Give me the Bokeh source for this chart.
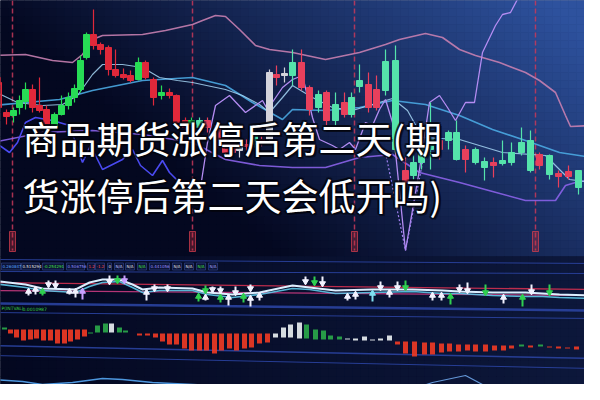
import numpy as np
from bokeh.plotting import figure
from bokeh.models import Range1d, ColumnDataSource
from bokeh.core.properties import value
from bokeh.embed import file_html
from bokeh.resources import INLINE

# ---------------- candles (time position, body top/bottom, high, low, kind) ----------------
candle_t = [1, 6, 14, 21, 27, 33, 40, 47, 54, 62, 69, 76, 82, 88, 94, 101, 108, 116, 123, 131, 138, 146, 153, 161, 169, 177, 184, 193, 199,
            207, 215, 225, 233, 240, 247, 254, 262, 269, 277, 284, 292, 300, 309, 317, 326, 334, 343, 352, 359, 367, 376, 384, 393,
            403, 413, 421, 429, 438, 447, 456, 464, 473, 483, 492, 501, 510, 519, 529, 538, 547, 557, 566, 576, 586, 595]
candle_top = [85, 90, 120, 118, 108, 97, 97, 113, 117, 122, 113, 105, 96, 68, 42, 42, 52, 55, 77, 82, 83, 70, 70, 87, 100, 100, 103, 128, 128,
              128, 128, 133, 138, 148, 153, 152, 142, 147, 80, 82, 81, 70, 70, 95, 102, 100, 112, 110, 105, 88, 92, 97, 69,
              68, 178, 170, 152, 147, 148, 140, 140, 157, 157, 169, 170, 168, 160, 150, 148, 162, 163, 181, 179, 178, 188]
candle_bot = [92, 115, 124, 123, 115, 109, 115, 118, 133, 135, 122, 113, 105, 97, 65, 53, 57, 77, 83, 85, 88, 87, 85, 105, 103, 103, 130, 135, 132,
              135, 135, 153, 160, 160, 158, 154, 152, 150, 147, 85, 83, 83, 95, 117, 115, 128, 128, 122, 122, 94, 115, 115, 98,
              157, 190, 183, 170, 157, 157, 148, 167, 167, 170, 175, 173, 171, 170, 160, 178, 173, 182, 184, 184, 195, 197]
candle_hi = [83, 87, 117, 115, 103, 90, 92, 85, 113, 120, 103, 100, 92, 63, 40, 17, 50, 53, 57, 76, 78, 65, 68, 85, 93, 96, 102, 125, 125,
             125, 125, 130, 135, 145, 150, 147, 135, 143, 77, 73, 75, 57, 57, 93, 98, 98, 100, 100, 100, 72, 80, 83, 57,
             53, 165, 163, 143, 110, 143, 138, 128, 153, 155, 165, 165, 148, 150, 135, 138, 160, 162, 178, 173, 178, 186]
candle_lo = [95, 120, 132, 130, 122, 117, 120, 120, 137, 137, 123, 117, 110, 100, 67, 57, 62, 83, 85, 87, 90, 88, 87, 113, 107, 106, 133, 138, 135,
             140, 140, 156, 163, 162, 165, 158, 155, 154, 150, 93, 90, 93, 98, 123, 120, 133, 133, 125, 125, 100, 120, 118, 103,
             160, 195, 187, 177, 177, 167, 157, 168, 180, 172, 188, 185, 173, 173, 163, 180, 177, 187, 195, 187, 202, 203]
candle_kind = list("dddu" "uudd" "duuu" "uuud" "dddd" "dudd" "uddd" "u"
                   "uddd" "dndu" "dndn" "uddu" "duduudd" "uu"
                   "duuudu" "uduuduuuud" "uddudu")

# ---------------- overlay lines ----------------
upper_x = [0, 33, 60, 80, 90, 100, 110, 150, 173, 200, 210, 223, 233, 247, 263, 277, 300, 333, 367, 393, 407, 433, 450, 467, 483, 507, 533, 547, 563, 573, 578, 600]
upper_y = [63, 62, 68, 70, 62, 47, 43, 42, 38, 32, 28, 23, 24, 37, 53, 57, 60, 67, 60, 52, 47, 41, 45, 57, 63, 70, 80, 88, 100, 123, 134, 133]
fast_x = [0, 25, 50, 70, 85, 100, 110, 130, 150, 167, 185, 200, 233, 250, 267, 277, 290, 300, 320, 340, 360, 380, 400, 415, 430, 467, 510, 553, 577, 600]
fast_y = [98, 110, 113, 112, 103, 82, 72, 72, 75, 85, 88, 90, 97, 103, 112, 120, 105, 93, 105, 115, 118, 112, 106, 118, 145, 147, 160, 163, 187, 190]
slow_x = [0, 67, 100, 150, 200, 233, 260, 290, 300, 333, 367, 400, 433, 467, 500, 533, 567, 600]
slow_y = [113, 107, 98, 88, 85, 93, 110, 127, 117, 118, 115, 108, 112, 123, 137, 148, 160, 165]
lower_x = [0, 50, 100, 150, 200, 233, 267, 300, 333, 367, 400, 427, 467, 500, 533, 563, 573, 583, 600]
lower_y = [150, 140, 138, 142, 150, 167, 173, 175, 175, 165, 162, 180, 190, 199, 208, 208, 193, 190, 187]
jl_x = [0, 7, 17, 25, 33, 43, 60, 77, 90, 98, 110, 130, 140, 148, 160, 170, 177, 187, 200, 208]
jl_y = [167, 153, 160, 150, 130, 125, 128, 133, 170, 153, 177, 167, 157, 173, 183, 168, 180, 190, 190, 195]
jr_x = [208, 215, 223, 237, 253, 270, 275, 290, 300, 310, 320, 327, 340, 347, 357, 363, 373, 380, 387, 393, 400, 413, 427, 437, 447, 455, 463, 473, 482, 490, 503, 510, 518, 527, 540]
jr_y = [195, 150, 113, 103, 120, 108, 117, 95, 87, 83, 125, 147, 153, 157, 150, 157, 130, 133, 117, 107, 130, 258, 177, 110, 103, 115, 128, 110, 110, 60, 33, 22, 20, 3, 0]
dv_x = [393, 413, 430]
dv_y = [160, 258, 170]
period_x = [20, 200, 362, 543]

# ---------------- signal panel ----------------
ar_x = [36, 43, 50, 56, 63, 77, 83, 90, 117, 125, 132, 154, 162, 175, 206, 213, 213, 220, 228, 228, 236, 243, 251, 258, 258, 267,
        313, 322, 330, 355, 363, 380, 388, 397, 405, 413, 440, 449, 458, 467, 475, 493, 511, 530, 539, 557, 595]
ar_tip = [297, 295, 297, 294, 295, 297, 297, 297, 291, 290, 290, 298, 298, 298, 302, 300, 303, 299, 300, 303, 303, 302, 302, 298, 304, 301,
          291, 292, 293, 302, 300, 299, 297, 298, 297, 297, 301, 301, 302, 299, 300, 302, 303, 303, 301, 302, 305]
ar_tail = [303, 302, 303, 288, 288, 302, 305, 307, 283, 283, 283, 308, 292, 292, 309, 293, 308, 294, 294, 310, 313, 294, 310, 292, 314, 308,
           284, 284, 284, 308, 307, 309, 289, 305, 289, 288, 308, 308, 312, 292, 290, 292, 311, 314, 292, 292, 313]
ar_kind = list("wwgwwwwp" "wgp" "www" "ggwwwgwwgwww" "wgw" "wwc" "wwwg" "wwg" "ww" "g" "w" "g" "w" "g" "c")

sig1_x = [0, 33, 50, 83, 97, 110, 127, 140, 150, 167, 200, 215, 240, 267, 300, 317, 343, 380, 420, 450, 467, 500, 533, 550, 567, 600]
sig1_y = [288, 292, 296, 297, 290, 287, 287, 292, 297, 295, 296, 300, 302, 300, 293, 295, 298, 297, 297, 298, 299, 300, 300, 301, 302, 303]
sig2_y = [291, 295, 298, 300, 294, 290, 289, 295, 300, 298, 298, 302, 305, 302, 296, 297, 301, 300, 299, 301, 301, 303, 304, 304, 305, 306]
level_y0 = [290, 298]
level_y1 = [297, 303]

hdr_text = ["0.260847", "0.515294", "-0.254291", "0.506756", "1.2", "-1.2", "0", "N/A", "N/A", "N/A", "0.441056", "N/A", "N/A", "N/A", "N/A"]
hdr_x = [9, 29, 50, 74, 95, 103, 115, 122, 133, 145, 157, 180, 192, 204, 216]
hdr_w = [19, 18, 21, 18, 7, 9, 4, 9, 9, 9, 20, 9, 9, 9, 9]
hdr_col = ["#5aa8ff", "#e0e0e0", "#45e045", "#8f8fff", "#ff4a4a", "#ff4a4a", "#e0e0e0", "#c0c8ff", "#e0e0e0", "#45e045", "#9a90ff", "#e0e0e0", "#e0e0e0", "#45e045", "#a8a8ff"]

# ---------------- histogram panel ----------------
mh_x = [5, 12, 18, 24, 31, 38, 44, 51, 58, 65, 72, 78, 85, 92, 98, 105, 113, 119, 127, 133,
        147, 155, 163, 170, 177, 184, 192, 199, 207, 214, 222, 229, 237, 244, 252, 259, 267, 275,
        283, 291, 298, 307, 314, 323, 331, 338, 347, 355, 363, 372, 380, 388, 397,
        405, 413, 422, 432, 440, 449, 457, 466, 475, 483, 493, 502, 511, 519, 529, 538, 548, 557, 566, 575, 584, 594]
mh_top = [333, 335, 337, 337, 337, 337, 337, 337, 337, 337, 337, 337, 337, 337, 340, 333, 331, 331, 335, 338,
          341, 341, 341, 341, 341, 341, 341, 341, 341, 341, 341, 341, 341, 341, 341, 341, 341, 341,
          341, 335, 332, 330, 332, 337, 338, 343, 344, 346, 346, 344, 347, 346, 343,
          349, 349, 349, 350, 350, 351, 351, 352, 352, 352, 352, 353, 353, 353, 352, 353, 352, 354, 354, 355, 354, 355]
mh_bot = [337, 337, 341, 345, 348, 347, 346, 348, 348, 351, 351, 349, 347, 344, 341, 340, 340, 340, 340, 340,
          343, 343, 345, 349, 352, 352, 356, 358, 358, 358, 361, 358, 356, 358, 356, 355, 351, 350,
          345, 345, 345, 346, 346, 347, 347, 347, 347, 347, 348, 348, 348, 348, 348,
          352, 361, 364, 362, 362, 360, 359, 359, 358, 359, 359, 358, 358, 356, 354, 355, 354, 355, 356, 356, 357, 357]
mh_kind = list("gg" "rrrrrrrrrrrr" "gggwgg" "rrrrrrrrrrrrrrrrrr" "www" "wggggg" "wwwwww" "rrrrrrrrrrrrrr" "grgrrrrr")

sep_y0 = [267, 279, 311, 320, 353, 363]
sep_y1 = [271, 281, 318, 326, 366, 376]
sep_w = [1, 1, 2.5, 1, 1.5, 1]

bottom_x = [0, 30, 50, 80, 110, 130, 160, 200, 240, 270, 300, 330, 360]
bottom_y = [387, 389, 392, 390, 386, 387, 390, 392, 394, 395, 397, 399, 401]
arc_x = [410, 440, 473, 490, 500]
arc_y = [400, 390, 383, 392, 400]

title_lines = ["商品期货涨停后第二天(期", "货涨停后第二天会低开吗)"]
title_y = [145, 202]

# ---------------- figure ----------------
p = figure(width=584, height=384, x_range=Range1d(8, 592), y_range=Range1d(392, 8),
           output_backend="svg", toolbar_location=None, min_border=0,
           background_fill_color="#070c2a", border_fill_color="#070c2a", outline_line_color=None)
p.axis.visible = False
p.xgrid.visible = False
p.ygrid.visible = False

# background gradient drawn as tiles (style only)
step = 8
tile_x, tile_t, tile_b, tile_c = [], [], [], []
c0 = (4, 8, 32); c1 = (46, 82, 158)
for yy in range(0, 400, step):
    for xx in range(0, 600, step):
        cx_, cy_ = xx + step / 2, yy + step / 2
        if cy_ < 265:
            w_ = min(max(1.05 * cx_ / 600 + 0.55 * (1 - cy_ / 265) - 0.5, 0.0), 1.0) ** 1.05
        else:
            w_ = min(0.22 * cx_ / 600, 0.25)
        tile_x.append(cx_)
        tile_t.append(yy)
        tile_b.append(yy + step)
        tile_c.append("#%02x%02x%02x" % tuple(int(a + (b - a) * w_) for a, b in zip(c0, c1)))
p.vbar(x=tile_x, top=tile_t, bottom=tile_b, width=step, fill_color=tile_c, line_color=tile_c, line_width=0.6)

# period separators
for vx in period_x:
    p.line([vx, vx], [0, 258], line_color="#c8385a", line_width=1.5, line_dash="5 3", line_alpha=0.85)
p.rect(x=period_x, y=[249] * len(period_x), width=6, height=20, fill_color="#c03040", fill_alpha=0.35,
       line_color="#e04050", line_alpha=0.7)

# overlay lines
p.line(upper_x, upper_y, line_color="#c77fb0", line_width=1.6, line_alpha=0.9)
p.line(lower_x, lower_y, line_color="#8a62e8", line_width=1.6, line_alpha=0.9)
p.line(slow_x, slow_y, line_color="#4aa8e2", line_width=1.6, line_alpha=0.9)
p.line(fast_x, fast_y, line_color="#a6d6f4", line_width=1.2, line_alpha=0.85)
p.line(jl_x, jl_y, line_color="#4a4af0", line_width=1.6)
p.line(jr_x, jr_y, line_color="#b48cf2", line_width=1.3)
p.line(dv_x, dv_y, line_color="#a080f0", line_width=1.2, line_dash="2 2")

# candles
def ccol(k, t):
    if k == "u":
        return "#27dc55" if t < 200 else "#55e3ab"
    if k == "d":
        return "#e0283a" if t < 200 else "#e8405c"
    return "#d4d4dc"

cols = [ccol(k, t) for k, t in zip(candle_kind, candle_t)]
csrc = ColumnDataSource(dict(x=candle_t, top=candle_top, bot=candle_bot, hi=candle_hi, lo=candle_lo, c=cols))
p.segment(x0="x", y0="hi", x1="x", y1="lo", line_color="c", line_width=1.2, source=csrc)
p.vbar(x="x", top="top", bottom="bot", width=6, fill_color="c", line_color="c", source=csrc)

# panel separators
for y0, y1, lw in zip(sep_y0, sep_y1, sep_w):
    p.line([0, 600], [y0, y1], line_color="#2a42a0", line_width=lw, line_alpha=0.9)

# header labels in small boxes
p.rect(x=[x + w / 2 for x, w in zip(hdr_x, hdr_w)], y=[274] * len(hdr_x), width=hdr_w, height=7,
       fill_color="#0c1438", line_color="#2a3a78", line_width=0.8)
p.text(x=[x + 1 for x in hdr_x], y=[274] * len(hdr_x), text=hdr_text, text_color=hdr_col, text_font=value("DejaVu Sans"),
       text_font_size="4px", text_baseline="middle", text_align="left")
p.text(x=[9, 30], y=[316, 316], text=["P(INTVAL)", "0.0010987"], text_color="#3ad040",
       text_font=value("DejaVu Sans"), text_font_size="4.5px", text_baseline="middle")

# signal lines
lcols = ["#d03050", "#c83a80"]
for y0, y1, lc in zip(level_y0, level_y1, lcols):
    p.line([0, 600], [y0, y1], line_color=lc, line_width=1.3, line_alpha=0.9)
p.line(sig1_x, sig2_y, line_color="#5fc8e8", line_width=1.6, line_alpha=0.9)
p.line(sig1_x, sig1_y, line_color="#dcefff", line_width=2)

# arrows
acol_map = {"w": "#f2f2ff", "g": "#30d050", "p": "#c9a0ff", "c": "#80e0f0"}
acol = [acol_map[k] for k in ar_kind]
up = [tl > tp for tp, tl in zip(ar_tip, ar_tail)]
p.segment(x0=ar_x, y0=ar_tail, x1=ar_x, y1=ar_tip, line_color=acol, line_width=2)
ux = [x for x, u in zip(ar_x, up) if u]; uy = [t + 2 for t, u in zip(ar_tip, up) if u]
uc = [c for c, u in zip(acol, up) if u]
dx = [x for x, u in zip(ar_x, up) if not u]; dy = [t - 2 for t, u in zip(ar_tip, up) if not u]
dc = [c for c, u in zip(acol, up) if not u]
p.scatter(ux, uy, marker="triangle", size=6, fill_color=uc, line_color=uc)
p.scatter(dx, dy, marker="inverted_triangle", size=6, fill_color=dc, line_color=dc)

# histogram
hmap = {"r": "#ee3a24", "g": "#2aa84a", "w": "#e8eef0"}
p.vbar(x=mh_x, top=mh_top, bottom=mh_bot, width=5, fill_color=[hmap[k] for k in mh_kind],
       line_color=None, fill_alpha=0.92)

# bottom lines
p.line(bottom_x, bottom_y, line_color="#5ab0ff", line_width=1.5, line_alpha=0.85)
p.line(arc_x, arc_y, line_color="#7ab8ff", line_width=1.2, line_alpha=0.8)

# title overlay
offs = [(-2, 0), (2, 0), (0, -2), (0, 2), (-1.5, -1.5), (1.5, 1.5), (-1.5, 1.5), (1.5, -1.5), (2.5, 2.5)]
for dxo, dyo in offs:
    p.text(x=[30 + dxo] * 2, y=[v + dyo for v in title_y], text=title_lines, text_color="#03040c",
           text_alpha=0.55, text_font=value("Noto Sans CJK SC"), text_font_size="37px",
           text_baseline="middle", text_align="left")
p.text(x=[30, 30], y=title_y, text=title_lines, text_color="#ffffff", text_font=value("Noto Sans CJK SC"),
       text_font_size="37px", text_baseline="middle", text_align="left")

open("out.html", "w").write(file_html(p, INLINE))
